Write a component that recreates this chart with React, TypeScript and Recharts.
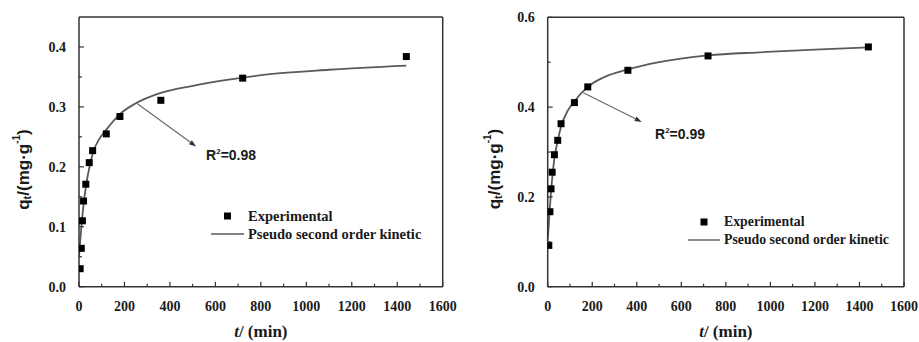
import React from 'react';
import {
  ComposedChart,
  Scatter,
  Line,
  XAxis,
  YAxis,
  ReferenceLine,
  ReferenceDot,
  Label,
} from 'recharts';

// Contact times (min)
const times = [5, 10, 15, 20, 30, 45, 60, 120, 180, 360, 720, 1440];

// Measured uptake q_t (mg/g), panel A and panel B
const qtA = [0.030, 0.064, 0.110, 0.143, 0.171, 0.207, 0.227, 0.255, 0.284, 0.311, 0.348, 0.384];
const qtB = [0.092, 0.167, 0.218, 0.255, 0.294, 0.326, 0.363, 0.410, 0.445, 0.482, 0.514, 0.534];

// Pseudo second order fitted curves
const fitTimesA = [0, 5, 10, 15, 20, 30, 45, 60, 90, 120, 180, 250, 350, 500, 650, 850, 1100, 1440];
const fitA = [0.05, 0.075, 0.098, 0.118, 0.137, 0.166, 0.198, 0.222, 0.247, 0.262, 0.288, 0.306, 0.322, 0.335, 0.345, 0.355, 0.362, 0.369];
const fitTimesB = [0, 5, 10, 15, 20, 30, 45, 60, 90, 120, 180, 250, 360, 500, 720, 950, 1200, 1440];
const fitB = [0.105, 0.14, 0.178, 0.212, 0.24, 0.285, 0.325, 0.357, 0.392, 0.413, 0.445, 0.466, 0.484, 0.5, 0.515, 0.522, 0.528, 0.533];

// Axis ticks
const xTicks = [0, 100, 200, 300, 400, 500, 600, 700, 800, 900, 1000, 1100, 1200, 1300, 1400, 1500, 1600];
const yTicksA = [0, 0.05, 0.1, 0.15, 0.2, 0.25, 0.3, 0.35, 0.4];
const yTicksB = [0, 0.1, 0.2, 0.3, 0.4, 0.5, 0.6];

// Fit-quality annotations
const r2A = '0.98';
const r2B = '0.99';

const AXIS = '#333';
const INK = '#1a1a1a';
const CURVE = '#5a5a5a';
const SERIF = '"Liberation Serif", "Times New Roman", serif';
const SANS = '"Liberation Sans", Arial, sans-serif';

const expA = times.map((t, i) => ({ t, q: qtA[i] }));
const expB = times.map((t, i) => ({ t, q: qtB[i] }));
const curveA = fitTimesA.map((t, i) => ({ t, q: fitA[i] }));
const curveB = fitTimesB.map((t, i) => ({ t, q: fitB[i] }));

const isMultiple = (v: number, step: number) => Math.abs(v / step - Math.round(v / step)) < 1e-6;

const XTick = (props: any) => {
  const { x, y, payload } = props;
  const v = payload.value as number;
  const major = isMultiple(v, 200);
  return (
    <g>
      <line x1={x} x2={x} y1={y} y2={y - (major ? 5 : 3)} stroke={AXIS} strokeWidth={1.2} />
      {major && (
        <text x={x} y={y + 24} textAnchor="middle" fontFamily={SERIF} fontWeight="bold" fontSize={14} fill={INK}>
          {v}
        </text>
      )}
    </g>
  );
};

const makeYTick = (majorStep: number) => (props: any) => {
  const { x, y, payload } = props;
  const v = payload.value as number;
  const major = isMultiple(v, majorStep);
  return (
    <g>
      <line x1={x} x2={x + (major ? 5 : 3)} y1={y} y2={y} stroke={AXIS} strokeWidth={1.2} />
      {major && (
        <text x={x - 13} y={y + 5} textAnchor="end" fontFamily={SERIF} fontWeight="bold" fontSize={14} fill={INK}>
          {v.toFixed(1)}
        </text>
      )}
    </g>
  );
};

const squareMarker = (props: any) => {
  const { cx, cy } = props;
  return <rect x={cx - 3.5} y={cy - 3.5} width={7} height={7} fill="#000" />;
};

const arrowShape = (props: any) => {
  const { x1, y1, x2, y2 } = props;
  const dx = x2 - x1;
  const dy = y2 - y1;
  const len = Math.sqrt(dx * dx + dy * dy) || 1;
  const ux = dx / len;
  const uy = dy / len;
  const headL = 7;
  const headW = 2.5;
  const bx = x2 - ux * headL;
  const by = y2 - uy * headL;
  const pts = `${x2},${y2} ${bx - uy * headW},${by + ux * headW} ${bx + uy * headW},${by - ux * headW}`;
  return (
    <g>
      <line x1={x1} y1={y1} x2={bx} y2={by} stroke="#6a6a6a" strokeWidth={1.2} />
      <polygon points={pts} fill="#333" />
    </g>
  );
};

const r2Shape = (value: string) => (props: any) => {
  const { cx, cy } = props;
  return (
    <text x={cx} y={cy} fontFamily={SANS} fontWeight="bold" fontSize={14} fill={INK}>
      R
      <tspan dy={-6} fontSize={8}>2</tspan>
      <tspan dy={6}>={value}</tspan>
    </text>
  );
};

const xTitle = (props: any) => {
  const vb = props.viewBox;
  return (
    <text x={vb.x + vb.width / 2} y={vb.y + 50} textAnchor="middle" fontFamily={SERIF} fontWeight="bold" fontSize={17} fill={INK}>
      <tspan fontStyle="italic">t</tspan>/ (min)
    </text>
  );
};

const yTitle = (offsetX: number, centerY: number) => (props: any) => {
  const vb = props.viewBox;
  const cx = vb.x + vb.width - offsetX;
  const cy = vb.y + centerY;
  return (
    <text
      x={cx}
      y={cy}
      transform={`rotate(-90 ${cx} ${cy})`}
      textAnchor="middle"
      dominantBaseline="central"
      fontFamily={SANS}
      fontWeight="bold"
      fontSize={17}
      fill={INK}
    >
      q<tspan dy={4} fontSize={11}>t</tspan>
      <tspan dy={-4}>/(mg·g</tspan>
      <tspan dy={-7} fontSize={10}>-1</tspan>
      <tspan dy={7}>)</tspan>
    </text>
  );
};

type PanelProps = {
  left: number;
  width: number;
  margin: { top: number; right: number; bottom: number; left: number };
  yMax: number;
  yTicks: number[];
  yMajor: number;
  exp: { t: number; q: number }[];
  curve: { t: number; q: number }[];
  arrow: { x: number; y: number }[];
  r2At: { t: number; q: number };
  r2: string;
  titleOffsetX: number;
  titleCenterY: number;
};

const Panel = (p: PanelProps) => (
  <div style={{ position: 'absolute', left: p.left, top: 0 }}>
    <ComposedChart width={p.width} height={342} margin={p.margin}>
      <XAxis
        type="number"
        dataKey="t"
        domain={[0, 1600]}
        ticks={xTicks}
        interval={0}
        allowDataOverflow
        tickSize={0}
        tickMargin={0}
        tickLine={false}
        tick={XTick}
        height={30}
        axisLine={{ stroke: AXIS, strokeWidth: 1.5 }}
      >
        <Label content={xTitle} />
      </XAxis>
      <YAxis
        type="number"
        dataKey="q"
        domain={[0, p.yMax]}
        ticks={p.yTicks}
        interval={0}
        allowDataOverflow
        tickSize={0}
        tickMargin={0}
        tickLine={false}
        tick={makeYTick(p.yMajor)}
        width={60}
        axisLine={{ stroke: AXIS, strokeWidth: 1.5 }}
      >
        <Label content={yTitle(p.titleOffsetX, p.titleCenterY)} />
      </YAxis>
      <ReferenceLine y={p.yMax} stroke={AXIS} strokeWidth={1.5} ifOverflow="visible" />
      <ReferenceLine x={1600} stroke={AXIS} strokeWidth={1.5} ifOverflow="visible" />
      <Line
        data={p.curve}
        dataKey="q"
        type="monotone"
        stroke={CURVE}
        strokeWidth={1.8}
        dot={false}
        activeDot={false}
        isAnimationActive={false}
      />
      <Scatter data={p.exp} dataKey="q" shape={squareMarker} isAnimationActive={false} />
      <ReferenceLine segment={p.arrow} shape={arrowShape} ifOverflow="visible" />
      <ReferenceDot x={p.r2At.t} y={p.r2At.q} shape={r2Shape(p.r2)} ifOverflow="visible" />
    </ComposedChart>
  </div>
);

const LegendBox = ({ left, top, fontSize, lineLen }: { left: number; top: number; fontSize: number; lineLen: number }) => (
  <div style={{ position: 'absolute', left, top, fontFamily: SERIF, fontWeight: 'bold', fontSize, color: INK, lineHeight: '18px' }}>
    <div style={{ display: 'flex', alignItems: 'center', height: 18 }}>
      <svg width={lineLen + 4} height={18}>
        <rect x={lineLen / 2 - 3.5} y={5.5} width={7} height={7} fill="#000" />
      </svg>
      <span>Experimental</span>
    </div>
    <div style={{ display: 'flex', alignItems: 'center', height: 18 }}>
      <svg width={lineLen + 4} height={18}>
        <line x1={0} x2={lineLen} y1={9} y2={9} stroke={CURVE} strokeWidth={1.4} />
      </svg>
      <span>Pseudo second order kinetic</span>
    </div>
  </div>
);

export default function App() {
  return (
    <div style={{ position: 'absolute', left: 0, top: 0, width: 919, height: 342, background: '#fff', overflow: 'hidden' }}>
      <Panel
        left={0}
        width={460}
        margin={{ top: 17, right: 17.3, bottom: 25.3, left: 19 }}
        yMax={0.45}
        yTicks={yTicksA}
        yMajor={0.1}
        exp={expA}
        curve={curveA}
        arrow={[{ x: 254, y: 0.306 }, { x: 515, y: 0.234 }]}
        r2At={{ t: 559, q: 0.212 }}
        r2={r2A}
        titleOffsetX={55.7}
        titleCenterY={152.5}
      />
      <Panel
        left={460}
        width={459}
        margin={{ top: 17.3, right: 15, bottom: 25.3, left: 27.7 }}
        yMax={0.6}
        yTicks={yTicksB}
        yMajor={0.2}
        exp={expB}
        curve={curveB}
        arrow={[{ x: 160, y: 0.432 }, { x: 422, y: 0.367 }]}
        r2At={{ t: 482, q: 0.328 }}
        r2={r2B}
        titleOffsetX={53.7}
        titleCenterY={151.7}
      />
      <LegendBox left={211} top={207} fontSize={14.5} lineLen={33} />
      <LegendBox left={688} top={213} fontSize={13.8} lineLen={32} />
    </div>
  );
}
